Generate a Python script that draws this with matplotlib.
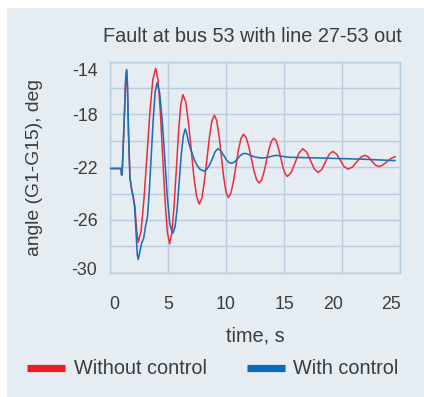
import matplotlib
matplotlib.use("Agg")
import matplotlib.pyplot as plt
from matplotlib.patches import Rectangle
from matplotlib.lines import Line2D
from matplotlib.transforms import ScaledTranslation

# ---------------- data ----------------
t_red = [0, 0.95, 1.0, 1.05, 1.2, 1.35, 1.43, 1.5, 1.6, 1.72, 1.85, 2.0, 2.15, 2.3, 2.43,
         2.68, 2.93, 3.19, 3.44, 3.69, 3.94,
         4.14, 4.34, 4.54, 4.74, 4.94, 5.14,
         5.33, 5.52, 5.72, 5.91, 6.10, 6.29,
         6.53, 6.76, 7.0, 7.23, 7.47, 7.7,
         7.92, 8.13, 8.35, 8.57, 8.78, 9.0,
         9.2, 9.4, 9.6, 9.8, 10.0, 10.2,
         10.42, 10.64, 10.86, 11.07, 11.29, 11.51,
         11.74, 11.96, 12.19, 12.41, 12.64, 12.86,
         13.07, 13.28, 13.49, 13.7, 13.91, 14.12,
         14.32, 14.51, 14.71, 14.9, 15.1, 15.29,
         15.63, 15.96, 16.3, 16.63,
         16.96, 17.29, 17.61, 17.94,
         18.26, 18.57, 18.89, 19.2,
         19.53, 19.86, 20.18, 20.51,
         20.88, 21.24, 21.61, 21.97,
         22.27, 22.57, 22.87, 23.17,
         23.5, 23.85, 24.2, 24.57]
y_red = [-22.1, -22.1, -22.6, -22.4, -19.0, -15.5, -14.8, -15.8, -19.5, -22.8, -23.6, -24.2, -25.0, -26.8, -27.7,
         -26.82, -24.4, -21.1, -17.8, -15.38, -14.5,
         -15.39, -17.83, -21.15, -24.48, -26.91, -27.8,
         -27.04, -24.98, -22.15, -19.33, -17.26, -16.5,
         -17.06, -18.58, -20.65, -22.73, -24.24, -24.8,
         -24.35, -23.11, -21.43, -19.74, -18.5, -18.05,
         -18.47, -19.61, -21.18, -22.74, -23.88, -24.3,
         -23.98, -23.1, -21.9, -20.7, -19.82, -19.5,
         -19.75, -20.43, -21.35, -22.28, -22.95, -23.2,
         -22.97, -22.35, -21.5, -20.65, -20.03, -19.8,
         -19.99, -20.53, -21.25, -21.98, -22.51, -22.7,
         -22.39, -21.65, -20.91, -20.6,
         -20.86, -21.5, -22.14, -22.4,
         -22.17, -21.6, -21.03, -20.8,
         -21.0, -21.48, -21.95, -22.15,
         -22.0, -21.63, -21.25, -21.1,
         -21.22, -21.53, -21.83, -21.95,
         -21.85, -21.6, -21.35, -21.2]

t_blue = [0, 0.95, 1.0, 1.05, 1.2, 1.35, 1.43, 1.5, 1.6, 1.72, 1.85, 2.0, 2.12, 2.25, 2.35, 2.43,
          2.55, 2.75, 2.9, 3.06,
          3.23, 3.39, 3.56, 3.73, 3.89, 4.06,
          4.28, 4.5, 4.72, 4.93, 5.15, 5.37, 5.45,
          5.62, 5.8, 5.97, 6.14, 6.32, 6.49,
          6.6, 6.75, 6.9, 7.1, 7.3, 7.5, 7.75, 8.09,
          8.35, 8.6, 8.85, 9.05, 9.29,
          9.55, 9.8, 10.05, 10.25, 10.49,
          10.75, 11.0, 11.25, 11.45, 11.66,
          12.0, 12.4, 12.8, 13.2,
          13.6, 14.0, 14.43,
          15.0, 15.5, 16.5, 18.0, 20.0, 22.0, 24.57]
y_blue = [-22.1, -22.1, -22.6, -22.4, -19.0, -15.3, -14.6, -15.6, -19.5, -22.8, -23.6, -24.3, -25.0, -27.0, -28.6, -29.0,
          -28.5, -27.7, -27.4, -26.5,
          -25.77, -23.78, -21.05, -18.33, -16.33, -15.6,
          -16.36, -18.45, -21.3, -24.15, -26.24, -27.0, -26.95,
          -26.47, -25.03, -23.05, -21.08, -19.63, -19.1,
          -19.4, -20.0, -20.5, -21.0, -21.5, -21.85, -22.15, -22.3,
          -22.15, -21.8, -21.3, -20.85, -20.6,
          -20.75, -21.1, -21.45, -21.65, -21.7,
          -21.6, -21.35, -21.1, -20.98, -20.95,
          -21.05, -21.2, -21.28, -21.3,
          -21.25, -21.15, -21.1,
          -21.2, -21.25, -21.27, -21.3, -21.35, -21.4, -21.5]

x_ticks = [0, 5, 10, 15, 20, 25]
y_ticks = [-14, -18, -22, -26, -30]
y_grid = [-28, -24, -20, -16]
series_names = ["Without control", "With control"]
title = "Fault at bus 53 with line 27-53 out"
xlabel = "time, s"
ylabel = "angle (G1-G15), deg"

# ---------------- style ----------------
plt.rcParams['font.family'] = ['Liberation Sans', 'DejaVu Sans']
plt.rcParams['axes.unicode_minus'] = False
BG = "#e5ecf2"
GRID = "#b9cde0"
TXT = "#3c3c3c"
RED = "#ee2b3a"
BLUE = "#1f6fb8"
FS = 14.3

W, H = 424, 397
fig = plt.figure(figsize=(W / 100, H / 100), dpi=100)
fig.patch.set_facecolor("white")
fig.add_artist(Rectangle((7 / W, 0), 1 - 7 / W, 1 - 8 / H, transform=fig.transFigure,
                         facecolor=BG, edgecolor="none", zorder=-10))

ax = fig.add_axes([110 / W, 1 - 272.7 / H, 290 / W, (272.7 - 61.7) / H])
ax.set_facecolor(BG)
ax.plot(t_red, y_red, color=RED, lw=1.1, zorder=3)
ax.plot(t_blue, y_blue, color=BLUE, lw=1.15, zorder=4)

ax.set_xlim(0, 25)
ax.set_ylim(-30, -14)
ax.set_xticks(x_ticks)
ax.set_yticks(y_ticks)
ax.set_yticks(y_grid, minor=True)
ax.grid(True, which="both", color=GRID, lw=1.0)
ax.set_axisbelow(True)
for s in ax.spines.values():
    s.set_color(GRID)
    s.set_linewidth(1.0)
ax.tick_params(which="both", length=0, colors=TXT, labelsize=12.8)
ax.tick_params(axis="x", pad=17)
ax.tick_params(axis="y", pad=9)

# nudge end labels inward as in the reference
px = lambda dx, dy: ScaledTranslation(dx / 100, dy / 100, fig.dpi_scale_trans)
xoff = {0: 4, 20: -9, 25: -9}
yoff = {-14: -8, -30: 4}
for lab, v in zip(ax.get_xticklabels(), x_ticks):
    if v in xoff:
        lab.set_transform(lab.get_transform() + px(xoff[v], 0))
for lab, v in zip(ax.get_yticklabels(), y_ticks):
    if v in yoff:
        lab.set_transform(lab.get_transform() + px(0, yoff[v]))

fig.text(103 / W, 1 - 36 / H, title, ha="left", va="center", fontsize=FS, color=TXT)
fig.text(255 / W, 1 - 336 / H, xlabel, ha="center", va="center", fontsize=FS, color=TXT)
fig.text(35 / W, 1 - 167.5 / H, ylabel, ha="center", va="center", rotation=90,
         fontsize=13.9, color=TXT)

# legend
for x0, x1, col, tx, name in [(27, 65, "#ee1c25", 74, series_names[0]),
                              (247, 285, "#0a6ab5", 293, series_names[1])]:
    fig.add_artist(Line2D([x0 / W, x1 / W], [1 - 368 / H, 1 - 368 / H], transform=fig.transFigure,
                          color=col, lw=5.2, solid_capstyle="butt"))
    fig.text(tx / W, 1 - 368 / H, name, ha="left", va="center", fontsize=FS, color=TXT)

fig.savefig("out.png", dpi=100, facecolor=fig.get_facecolor())
